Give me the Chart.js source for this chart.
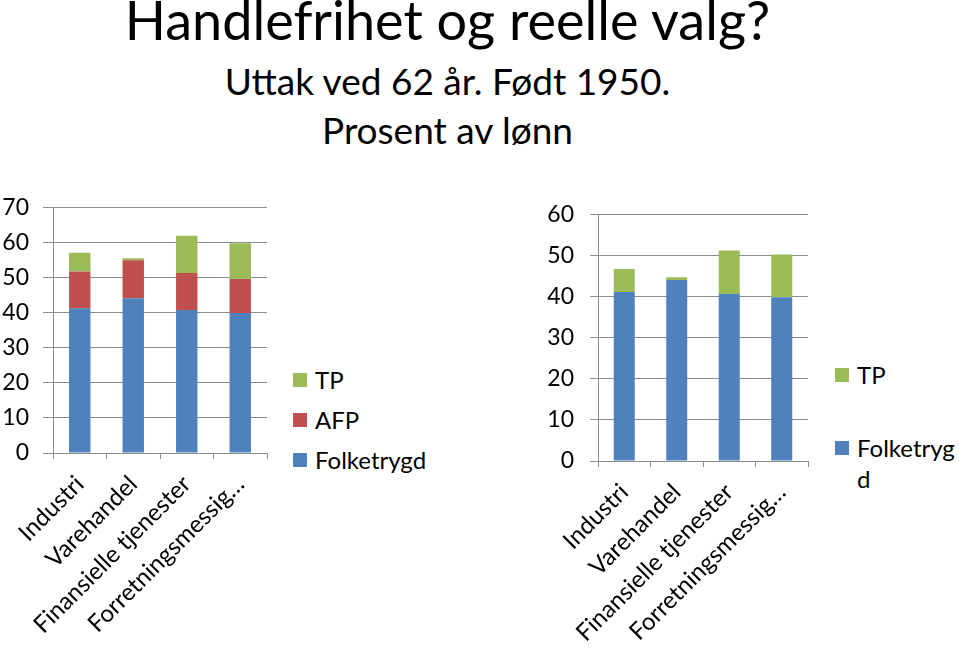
<!DOCTYPE html>
<html>
<head>
<meta charset="utf-8">
<script src="https://cdn.jsdelivr.net/npm/chart.js@4.4.0/dist/chart.umd.min.js"></script>
<style>
  body { margin: 0; background: #fff; font-family: Lato, sans-serif; }
  #page { position: relative; width: 959px; height: 650px; overflow: hidden; }
  .title { position: absolute; left: 0; width: 895px; text-align: center; color: #000; white-space: nowrap; line-height: 1.2; }
  .legend { position: absolute; font-size: 24px; color: #000; }
  .legend .item { display: flex; align-items: flex-start; line-height: 31px; }
  .legend .box { width: 14px; height: 14px; margin: 9px 8px 0 0; flex: none; }
  .legend .txt { word-break: break-all; }
</style>
</head>
<body>
<div id="page">
  <div class="title" style="top:-12px;font-size:54px;">Handlefrihet og reelle valg?</div>
  <div class="title" style="top:59px;font-size:37px;">Uttak ved 62 år. Født 1950.</div>
  <div class="title" style="top:108px;font-size:37px;">Prosent av lønn</div>

  <canvas id="leftChart" style="position:absolute;left:0;top:180px;"></canvas>
  <div id="leftLegend" class="legend" style="left:293px;top:364px;"></div>

  <canvas id="rightChart" style="position:absolute;left:530px;top:185px;"></canvas>
  <div id="rightLegend" class="legend" style="left:835px;top:359px;"></div>
</div>
<script>
// categories shown on the x axis
const categories = ['Industri', 'Varehandel', 'Finansielle tjenester', 'Forretningsmessig…'];

// left chart: with AFP
const folketrygd = [41.3, 44.2, 40.8, 40.0];
const afp = [10.5, 10.8, 10.6, 9.7];
const tpLeft = [5.4, 0.6, 10.6, 10.2];

// right chart: without AFP
const folketrygdRight = [41.2, 44.1, 40.7, 39.9];
const tpRight = [5.6, 0.7, 10.6, 10.4];

const leftTicks = { min: 0, max: 70, step: 10 };
const rightTicks = { min: 0, max: 60, step: 10 };

const BLUE = '#4F81BD';
const RED = '#C0504D';
const GREEN = '#9BBB59';
const GRID = '#8C8C8C';
const FONT = 'Lato';

function makeChart(canvasId, w, h, datasets, ticks, dims) {
    const canvas = document.getElementById(canvasId);
    canvas.width = w;
    canvas.height = h;
    canvas.style.width = w + 'px';
    canvas.style.height = h + 'px';

    return new Chart(canvas.getContext('2d'), {
        type: 'bar',
        data: { labels: categories, datasets: datasets },
        options: {
            responsive: false,
            animation: false,
            layout: { padding: { top: 0, right: dims.right, left: 0, bottom: 0 } },
            plugins: { legend: { display: false }, tooltip: { enabled: false } },
            datasets: { bar: { categoryPercentage: 1, barPercentage: 0.4 } },
            scales: {
                x: {
                    stacked: true,
                    offset: true,
                    grid: { offset: true, drawOnChartArea: false, color: GRID, tickLength: 6 },
                    border: { color: GRID },
                    ticks: {
                        autoSkip: false, minRotation: 45, maxRotation: 45,
                        color: '#000', padding: dims.xPad,
                        font: { family: FONT, size: 24 }
                    },
                    afterFit: function (scale) { scale.height = dims.xHeight; }
                },
                y: {
                    stacked: true,
                    min: ticks.min, max: ticks.max,
                    grid: { color: GRID, tickLength: dims.tickLen },
                    border: { color: GRID },
                    ticks: {
                        stepSize: ticks.step, color: '#000', padding: dims.yPad,
                        font: { family: FONT, size: 23 }
                    },
                    afterFit: function (scale) { scale.width = dims.yWidth; }
                }
            }
        }
    });
}

// legend drawn as html so the long label can wrap like in the original
function buildLegend(elId, chart, gap, textWidth) {
    const el = document.getElementById(elId);
    const items = chart.data.datasets.slice().reverse();
    items.forEach(function (ds, i) {
        const item = document.createElement('div');
        item.className = 'item';
        if (i < items.length - 1) item.style.marginBottom = gap + 'px';
        const box = document.createElement('span');
        box.className = 'box';
        box.style.background = ds.backgroundColor;
        const txt = document.createElement('span');
        txt.className = 'txt';
        if (textWidth) txt.style.maxWidth = textWidth + 'px';
        txt.textContent = ds.label;
        item.appendChild(box);
        item.appendChild(txt);
        el.appendChild(item);
    });
}

const leftChart = makeChart('leftChart', 290, 470, [
    { label: 'Folketrygd', data: folketrygd, backgroundColor: BLUE },
    { label: 'AFP', data: afp, backgroundColor: RED },
    { label: 'TP', data: tpLeft, backgroundColor: GREEN }
], leftTicks, { right: 23, yWidth: 53, xHeight: 197, tickLen: 10, yPad: 14, xPad: 11 });

const rightChart = makeChart('rightChart', 300, 465, [
    { label: 'Folketrygd', data: folketrygdRight, backgroundColor: BLUE },
    { label: 'TP', data: tpRight, backgroundColor: GREEN }
], rightTicks, { right: 22, yWidth: 68, xHeight: 189, tickLen: 8, yPad: 16, xPad: 11 });

buildLegend('leftLegend', leftChart, 9, null);
buildLegend('rightLegend', rightChart, 42, 104);
</script>
</body>
</html>
